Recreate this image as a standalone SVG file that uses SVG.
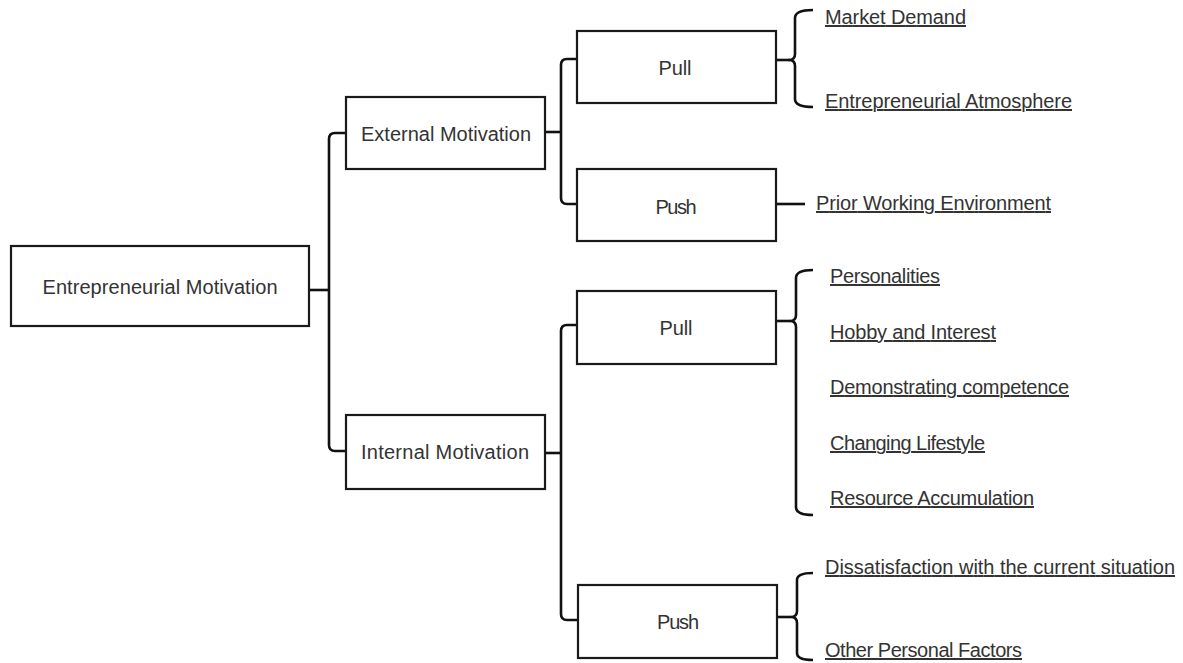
<svg xmlns="http://www.w3.org/2000/svg" width="1183" height="663" viewBox="0 0 1183 663">
<style>
.box{fill:#fff;stroke:#1a1a1a;stroke-width:2.2}
.lbl{font-family:"Liberation Sans",Arial,sans-serif;font-size:20px;fill:#333;text-anchor:middle}
.item{font-family:"Liberation Sans",Arial,sans-serif;font-size:20px;fill:#333;text-decoration:underline}
.conn{fill:none;stroke:#111;stroke-width:2.6;stroke-linejoin:round;stroke-linecap:butt}
</style>
<rect width="1183" height="663" fill="#fff"/>
<g id="connectors">
<path class="conn" d="M309,290 H329"/>
<path class="conn" d="M346,133 H335 Q329,133 329,139 V445 Q329,451 335,451 H346"/>
<path class="conn" d="M545,132 H561"/>
<path class="conn" d="M577,59 H567 Q561,59 561,65 V198 Q561,204 567,204 H577"/>
<path class="conn" d="M545,453 H561"/>
<path class="conn" d="M577,325 H567 Q561,325 561,331 V614 Q561,620 567,620 H578"/>
<path class="conn" d="M813,10 Q795,10 795,18 V54 Q795,60 789,60 Q795,60 795,66 V99 Q795,107 813,107"/>
<path class="conn" d="M776,60 H790"/>
<path class="conn" d="M776,204 H805"/>
<path class="conn" d="M813,270 Q796,270 796,278 V315 Q796,321 790,321 Q796,321 796,327 V507 Q796,515 813,515"/>
<path class="conn" d="M776,321 H790"/>
<path class="conn" d="M813,573 Q797,573 797,580 V611 Q797,617 791,617 Q797,617 797,623 V653 Q797,660 813,660"/>
<path class="conn" d="M777,617 H791"/>
</g>
<g id="root">
<rect class="box" x="11" y="246" width="298" height="80"/>
<text class="lbl" x="160" y="294" textLength="235">Entrepreneurial Motivation</text>
</g>
<g id="external">
<rect class="box" x="346" y="97" width="199" height="72"/>
<text class="lbl" x="446" y="141" textLength="170">External Motivation</text>
</g>
<g id="internal">
<rect class="box" x="346" y="415" width="199" height="74"/>
<text class="lbl" x="445" y="459" textLength="168">Internal Motivation</text>
</g>
<g id="ext-pull">
<rect class="box" x="577" y="31" width="199" height="72"/>
<text class="lbl" x="675" y="75" textLength="33">Pull</text>
</g>
<g id="ext-push">
<rect class="box" x="577" y="169" width="199" height="72"/>
<text class="lbl" x="676" y="214" textLength="41">Push</text>
</g>
<g id="int-pull">
<rect class="box" x="577" y="291" width="199" height="73"/>
<text class="lbl" x="676" y="335" textLength="33">Pull</text>
</g>
<g id="int-push">
<rect class="box" x="578" y="585" width="199" height="73"/>
<text class="lbl" x="678" y="629" textLength="42">Push</text>
</g>
<g id="market-demand"><text class="item" x="825" y="24" textLength="141">Market Demand</text></g>
<g id="entrepreneurial-atmosphere"><text class="item" x="825" y="108" textLength="247">Entrepreneurial Atmosphere</text></g>
<g id="prior-working-environment"><text class="item" x="816" y="210" textLength="235">Prior Working Environment</text></g>
<g id="personalities"><text class="item" x="830" y="283" textLength="110">Personalities</text></g>
<g id="hobby"><text class="item" x="830" y="339" textLength="166">Hobby and Interest</text></g>
<g id="competence"><text class="item" x="830" y="394" textLength="239">Demonstrating competence</text></g>
<g id="lifestyle"><text class="item" x="830" y="450" textLength="155">Changing Lifestyle</text></g>
<g id="resource"><text class="item" x="830" y="505" textLength="204">Resource Accumulation</text></g>
<g id="dissatisfaction"><text class="item" x="825" y="574" textLength="350">Dissatisfaction with the current situation</text></g>
<g id="other-factors"><text class="item" x="825" y="657" textLength="197">Other Personal Factors</text></g>
</svg>
